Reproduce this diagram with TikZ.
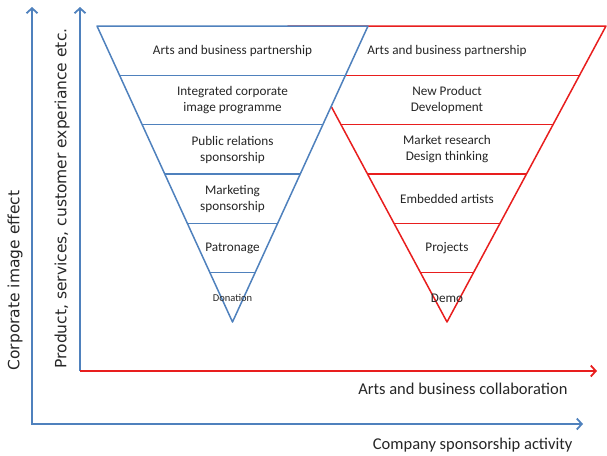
\documentclass[tikz,border=0pt]{standalone}
\usepackage{fontspec}
\setmainfont{Carlito}
\newfontfamily\axisfont{DejaVu Sans}
\usetikzlibrary{calc,arrows.meta}
\definecolor{pyrblue}{RGB}{79,129,189}
\definecolor{pyrred}{RGB}{232,30,30}

\begin{document}
\begin{tikzpicture}[x=1pt,y=-1pt,
  band/.style={text=black!85,font=\fontsize{13.2}{16}\selectfont,align=center},
  vlabel/.style={text=black!85,font=\axisfont\fontsize{15.5}{18}\selectfont,rotate=90,anchor=west},
  hlabel/.style={text=black!85,font=\fontsize{16.5}{20}\selectfont,anchor=east},
  axis/.style={line width=1.8pt},
  tip/.style={-{Straight Barb[length=5pt,width=11pt]}},
  edge/.style={line width=1.5pt,line join=round}]
\useasboundingbox (0,0) rectangle (607,455);
% axes
\coordinate (o1) at (32,424);
\coordinate (o2) at (80,371);
\draw[axis,pyrblue,{Straight Barb[length=5pt,width=11pt]}-{Straight Barb[length=5pt,width=11pt]}] (32,7) -- (o1) -- (583,424);
\draw[axis,pyrblue,{Straight Barb[length=5pt,width=11pt]}-] (80,7) -- (o2);
\draw[axis,pyrred,tip] (o2) -- (597,371);
% red triangle
\coordinate (rl) at (288,26);
\coordinate (rr) at (606,26);
\coordinate (ra) at (447,322);
\filldraw[edge,pyrred,fill=white] (rl) -- (rr) -- (ra) -- cycle;
\foreach \k in {1,...,5}
  \draw[edge,pyrred] ($(rl)!\k/6!(ra)$) -- ($(rr)!\k/6!(ra)$);
% blue triangle
\coordinate (bl) at (97,26);
\coordinate (br) at (368,26);
\coordinate (ba) at (232.5,322);
\filldraw[edge,pyrblue,fill=white] (bl) -- (br) -- (ba) -- cycle;
\foreach \k in {1,...,5}
  \draw[edge,pyrblue] ($(bl)!\k/6!(ba)$) -- ($(br)!\k/6!(ba)$);
% labels
\node[band] (b1) at (232.5,51) {Arts and business partnership};
\node[band] (b2) at (232.5,100) {Integrated corporate\\image programme};
\node[band] (b3) at (232.5,150) {Public relations\\sponsorship};
\node[band] (b4) at (232.5,199) {Marketing\\sponsorship};
\node[band] (b5) at (232.5,248) {Patronage};
\node[band,font=\fontsize{10.5}{12}\selectfont] (b6) at (232.5,298) {Donation};
\node[band] (r1) at (447,51) {Arts and business partnership};
\node[band] (r2) at (447,100) {New Product\\Development};
\node[band] (r3) at (447,149) {Market research\\Design thinking};
\node[band] (r4) at (447,199) {Embedded artists};
\node[band] (r5) at (447,248) {Projects};
\node[band] (r6) at (447,298) {Demo};
\node[vlabel] (yout) at (15,374) {Corporate image effect};
\node[vlabel] (yin) at (62,372) {Product, services, customer experiance etc.};
\node[hlabel] (xin) at (571,389) {Arts and business collaboration};
\node[hlabel] (xout) at (576,445) {Company sponsorship activity};
\end{tikzpicture}
\end{document}
